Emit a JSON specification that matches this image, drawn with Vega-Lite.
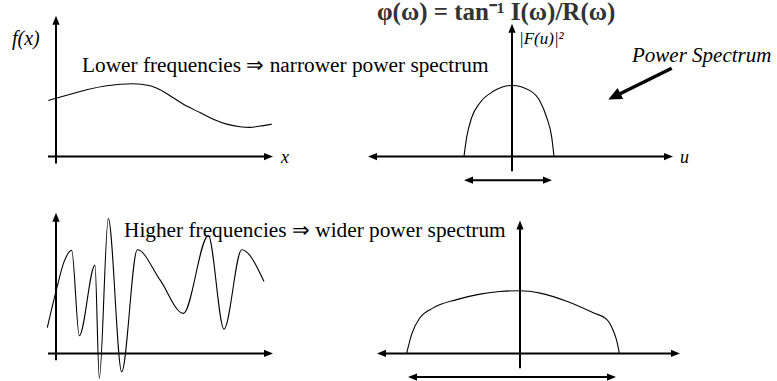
{
  "$schema": "https://vega.github.io/schema/vega-lite/v6.json",
  "width": 777,
  "height": 381,
  "padding": 0,
  "autosize": {"type": "fit", "contains": "padding"},
  "background": "white",
  "config": {"view": {"stroke": null}},
  "datasets": {
    "segments": [
      {"kind": "axis", "x": 56, "y": 14, "x2": 56, "y2": 160},
      {"kind": "axis", "x": 48, "y": 153, "x2": 269, "y2": 153},
      {"kind": "axis", "x": 512, "y": 22, "x2": 512, "y2": 168},
      {"kind": "axis", "x": 372, "y": 153, "x2": 669, "y2": 153},
      {"kind": "axis", "x": 468, "y": 177, "x2": 548, "y2": 177},
      {"kind": "axis", "x": 56, "y": 214, "x2": 56, "y2": 360},
      {"kind": "axis", "x": 48, "y": 353, "x2": 269, "y2": 353},
      {"kind": "axis", "x": 520, "y": 222, "x2": 520, "y2": 368},
      {"kind": "axis", "x": 381, "y": 353, "x2": 676, "y2": 353},
      {"kind": "axis", "x": 412, "y": 377, "x2": 612, "y2": 377},
      {"kind": "pointer", "x": 671.7, "y": 63.3, "x2": 614, "y2": 92.2}
    ],
    "heads": [
      {"kind": "axis", "x": 56, "y": 10, "heading": 270},
      {"kind": "axis", "x": 273, "y": 153, "heading": 0},
      {"kind": "axis", "x": 512, "y": 18, "heading": 270},
      {"kind": "axis", "x": 368, "y": 153, "heading": 180},
      {"kind": "axis", "x": 673, "y": 153, "heading": 0},
      {"kind": "axis", "x": 464, "y": 177, "heading": 180},
      {"kind": "axis", "x": 552, "y": 177, "heading": 0},
      {"kind": "axis", "x": 56, "y": 210, "heading": 270},
      {"kind": "axis", "x": 273, "y": 353, "heading": 0},
      {"kind": "axis", "x": 520, "y": 218, "heading": 270},
      {"kind": "axis", "x": 377, "y": 353, "heading": 180},
      {"kind": "axis", "x": 680, "y": 353, "heading": 0},
      {"kind": "axis", "x": 408, "y": 377, "heading": 180},
      {"kind": "axis", "x": 616, "y": 377, "heading": 0},
      {"kind": "pointer", "x": 608.3, "y": 95, "heading": 153.4}
    ],
    "curves": [
      {"curve": "low signal", "x": 48.3, "y": 96},
      {"curve": "low signal", "x": 66.7, "y": 90.7},
      {"curve": "low signal", "x": 86.7, "y": 85},
      {"curve": "low signal", "x": 106.7, "y": 81},
      {"curve": "low signal", "x": 133, "y": 79},
      {"curve": "low signal", "x": 150, "y": 81},
      {"curve": "low signal", "x": 160, "y": 85},
      {"curve": "low signal", "x": 173.3, "y": 93.3},
      {"curve": "low signal", "x": 186.7, "y": 101.7},
      {"curve": "low signal", "x": 200, "y": 108.3},
      {"curve": "low signal", "x": 213.3, "y": 115},
      {"curve": "low signal", "x": 226.7, "y": 120},
      {"curve": "low signal", "x": 240, "y": 122.7},
      {"curve": "low signal", "x": 250, "y": 123.3},
      {"curve": "low signal", "x": 260, "y": 122},
      {"curve": "low signal", "x": 271.7, "y": 120},

      {"curve": "narrow spectrum", "x": 464, "y": 152.7},
      {"curve": "narrow spectrum", "x": 466.7, "y": 133.3},
      {"curve": "narrow spectrum", "x": 471.7, "y": 113.3},
      {"curve": "narrow spectrum", "x": 480, "y": 98.3},
      {"curve": "narrow spectrum", "x": 493.3, "y": 86.7},
      {"curve": "narrow spectrum", "x": 512.3, "y": 80.7},
      {"curve": "narrow spectrum", "x": 530, "y": 86},
      {"curve": "narrow spectrum", "x": 540, "y": 96.7},
      {"curve": "narrow spectrum", "x": 546.7, "y": 113.3},
      {"curve": "narrow spectrum", "x": 551.7, "y": 133.3},
      {"curve": "narrow spectrum", "x": 554, "y": 152.7},

      {"curve": "high signal", "x": 47.3, "y": 326.7},
      {"curve": "high signal", "x": 56, "y": 290},
      {"curve": "high signal", "x": 64, "y": 260},
      {"curve": "high signal", "x": 71.7, "y": 248.3},
      {"curve": "high signal", "x": 79.3, "y": 335},
      {"curve": "high signal", "x": 95, "y": 263.3},
      {"curve": "high signal", "x": 99.3, "y": 378.3},
      {"curve": "high signal", "x": 108.3, "y": 216},
      {"curve": "high signal", "x": 121.7, "y": 371.7},
      {"curve": "high signal", "x": 137.3, "y": 247.7},
      {"curve": "high signal", "x": 160, "y": 278.3},
      {"curve": "high signal", "x": 183.3, "y": 312.3},
      {"curve": "high signal", "x": 208.3, "y": 233.3},
      {"curve": "high signal", "x": 224, "y": 328.3},
      {"curve": "high signal", "x": 241.7, "y": 247.7},
      {"curve": "high signal", "x": 264, "y": 280},

      {"curve": "wide spectrum", "x": 406.7, "y": 352.7},
      {"curve": "wide spectrum", "x": 411.7, "y": 333.3},
      {"curve": "wide spectrum", "x": 420, "y": 316.7},
      {"curve": "wide spectrum", "x": 433.3, "y": 306.7},
      {"curve": "wide spectrum", "x": 456.7, "y": 298.3},
      {"curve": "wide spectrum", "x": 480, "y": 292.7},
      {"curve": "wide spectrum", "x": 500, "y": 290},
      {"curve": "wide spectrum", "x": 520, "y": 289.3},
      {"curve": "wide spectrum", "x": 540, "y": 291.7},
      {"curve": "wide spectrum", "x": 566.7, "y": 300},
      {"curve": "wide spectrum", "x": 593.3, "y": 311.7},
      {"curve": "wide spectrum", "x": 606.7, "y": 318.3},
      {"curve": "wide spectrum", "x": 613.3, "y": 330},
      {"curve": "wide spectrum", "x": 616.7, "y": 340},
      {"curve": "wide spectrum", "x": 619.3, "y": 352.7}
    ],
    "labels": [
      {"role": "caption", "x": 82, "y": 67.3, "text": "Lower frequencies ⇒ narrower power spectrum"},
      {"role": "caption", "x": 124, "y": 235, "text": "Higher frequencies ⇒ wider power spectrum"},
      {"role": "formula", "x": 377, "y": 14, "text": "φ(ω) = tan⁻¹ I(ω)/R(ω)"},
      {"role": "note", "x": 632, "y": 56.7, "text": "Power Spectrum"},
      {"role": "axis", "x": 12, "y": 40, "text": "f(x)"},
      {"role": "var", "x": 281, "y": 160, "text": "x"},
      {"role": "var", "x": 680, "y": 160, "text": "u"},
      {"role": "small", "x": 519, "y": 39, "text": "|F(u)|²"}
    ]
  },
  "encoding": {
    "x": {"field": "x", "type": "quantitative", "scale": {"domain": [0, 777]}, "axis": null},
    "y": {"field": "y", "type": "quantitative", "scale": {"domain": [0, 381], "reverse": true}, "axis": null}
  },
  "layer": [
    {
      "data": {"name": "segments"},
      "transform": [{"filter": "datum.kind === 'axis'"}],
      "mark": {"type": "rule", "color": "black", "strokeWidth": 2},
      "encoding": {"x2": {"field": "x2"}, "y2": {"field": "y2"}}
    },
    {
      "data": {"name": "segments"},
      "transform": [{"filter": "datum.kind === 'pointer'"}],
      "mark": {"type": "rule", "color": "black", "strokeWidth": 3.5},
      "encoding": {"x2": {"field": "x2"}, "y2": {"field": "y2"}}
    },
    {
      "data": {"name": "curves"},
      "mark": {"type": "line", "color": "black", "strokeWidth": 1.1, "interpolate": "monotone"},
      "encoding": {"detail": {"field": "curve"}}
    },
    {
      "data": {"name": "heads"},
      "transform": [{"filter": "datum.kind === 'axis'"}],
      "mark": {"type": "point", "shape": "M0,0L-1,-0.4L-1,0.4Z", "filled": true, "color": "black", "opacity": 1, "size": 324},
      "encoding": {"angle": {"field": "heading", "type": "quantitative", "scale": null}}
    },
    {
      "data": {"name": "heads"},
      "transform": [{"filter": "datum.kind === 'pointer'"}],
      "mark": {"type": "point", "shape": "M0,0L-1,-0.45L-1,0.45Z", "filled": true, "color": "black", "opacity": 1, "size": 729},
      "encoding": {"angle": {"field": "heading", "type": "quantitative", "scale": null}}
    },
    {
      "data": {"name": "labels"},
      "transform": [{"filter": "datum.role === 'caption'"}],
      "mark": {"type": "text", "font": "Liberation Serif", "fontSize": 21.3, "align": "left", "baseline": "alphabetic", "color": "black"},
      "encoding": {"text": {"field": "text"}}
    },
    {
      "data": {"name": "labels"},
      "transform": [{"filter": "datum.role === 'formula'"}],
      "mark": {"type": "text", "font": "Liberation Serif", "fontSize": 25, "fontWeight": "bold", "align": "left", "baseline": "alphabetic", "color": "#333"},
      "encoding": {"text": {"field": "text"}}
    },
    {
      "data": {"name": "labels"},
      "transform": [{"filter": "datum.role === 'note'"}],
      "mark": {"type": "text", "font": "Liberation Serif", "fontSize": 21, "fontStyle": "italic", "align": "left", "baseline": "alphabetic", "color": "black"},
      "encoding": {"text": {"field": "text"}}
    },
    {
      "data": {"name": "labels"},
      "transform": [{"filter": "datum.role === 'axis'"}],
      "mark": {"type": "text", "font": "Liberation Serif", "fontSize": 20, "fontStyle": "italic", "align": "left", "baseline": "alphabetic", "color": "black"},
      "encoding": {"text": {"field": "text"}}
    },
    {
      "data": {"name": "labels"},
      "transform": [{"filter": "datum.role === 'var'"}],
      "mark": {"type": "text", "font": "Liberation Serif", "fontSize": 18, "fontStyle": "italic", "align": "left", "baseline": "alphabetic", "color": "black"},
      "encoding": {"text": {"field": "text"}}
    },
    {
      "data": {"name": "labels"},
      "transform": [{"filter": "datum.role === 'small'"}],
      "mark": {"type": "text", "font": "Liberation Serif", "fontSize": 17, "fontStyle": "italic", "align": "left", "baseline": "alphabetic", "color": "black"},
      "encoding": {"text": {"field": "text"}}
    }
  ]
}
